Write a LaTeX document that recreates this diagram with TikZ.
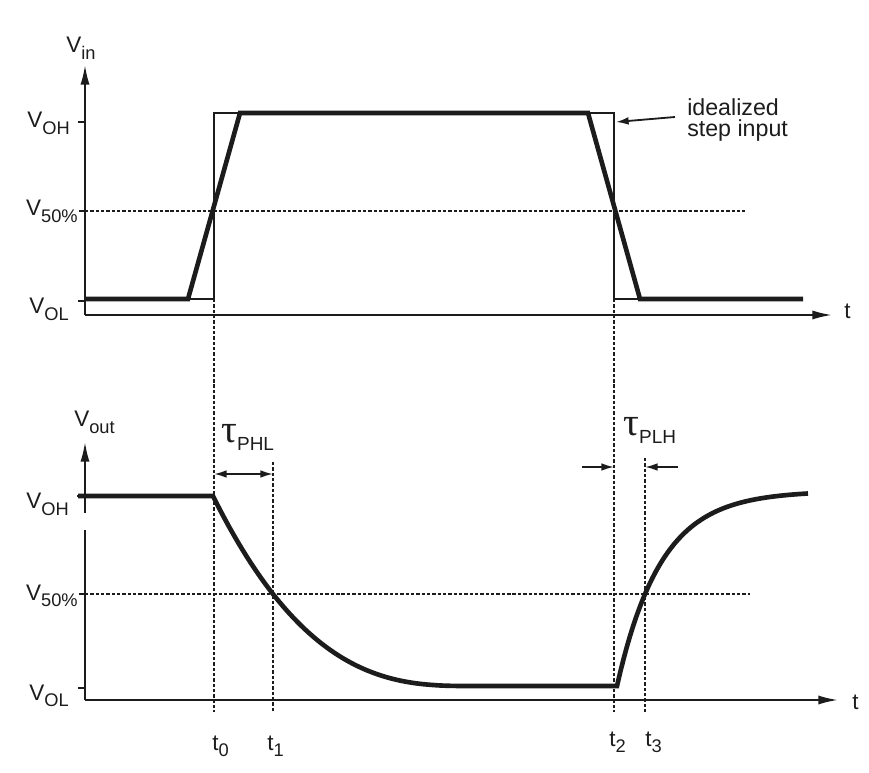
\documentclass[tikz,border=0pt]{standalone}
\usepackage{fontspec}
\setmainfont{Liberation Sans}
\newfontfamily\greekfont{Liberation Serif}
\usetikzlibrary{arrows.meta}

\definecolor{ink}{HTML}{1C1C1C}
\newcommand{\sig}[2]{#1\raisebox{-4.5pt}{\fontsize{13}{13}\selectfont #2}}
\newcommand{\dly}[1]{{\greekfont\fontsize{28}{28}\selectfont τ}\raisebox{-5pt}{\fontsize{13.5}{13.5}\selectfont #1}}

\begin{document}
\begin{tikzpicture}[x=0.025cm,y=-0.025cm,
  axis/.style={ink,line width=1.4pt,-{Latex[length=14pt,width=6.5pt]}},
  wave/.style={ink,line width=3.3pt},
  stepline/.style={ink,line width=1.3pt},
  guide/.style={ink,line width=0.9pt,dash pattern=on 2.4pt off 1.4pt},
  axtick/.style={ink,line width=1.4pt},
  lbl/.style={ink,font=\fontsize{16}{19}\selectfont,inner sep=0pt,anchor=base west},
  dim/.style={ink,line width=1.3pt},
  pointer/.style={ink,line width=1.3pt,-{Latex[length=9pt,width=5.5pt]}}]
  \useasboundingbox (0,0) rectangle (869,773);
  % input
  \coordinate (inO) at (85,315);
  \draw[axis] (inO) -- (85,65);
  \draw[axis] (inO) -- (832,315);
  \node[lbl] (vin) at (66,53) {\sig{V}{in}};
  \node[lbl] (tin) at (844,319) {t};
  \draw[axtick] (78,122) -- (85,122);
  \draw[axtick] (79,211) -- (85,211);
  \draw[axtick] (78,301) -- (85,301);
  \node[lbl,anchor=base east] (vohA) at (70,128) {\sig{V}{OH}};
  \node[lbl,anchor=base east] (vmidA) at (78,216) {\sig{V}{50\%}};
  \node[lbl,anchor=base east] (volA) at (69,314) {\sig{V}{OL}};
  \draw[guide] (85,211) -- (745,211);
  % idealized step and real input
  \draw[stepline] (85,299) -- (214,299) -- (214,113) -- (614,113) -- (614,299) -- (803,299);
  \draw[wave] (85,299) -- (188,299) -- (240,113) -- (588,113) -- (640,299) -- (803,299);
  \node[ink,anchor=west,align=left,inner sep=0pt,font=\fontsize{16.5}{15}\selectfont] (note) at (687,120) {idealized\\step input};
  \coordinate (stepEdge) at (616,122);
  \draw[pointer] ([shift={(-12,-3)}]note.west) -- (stepEdge);
  % output
  \coordinate (outO) at (85,700);
  \draw[axtick] (outO) -- (85,530);
  \draw[axis] (85,513) -- (85,442);
  \draw[axis] (outO) -- (838,700);
  \node[lbl] (vout) at (74,427) {\sig{V}{out}};
  \node[lbl] (tout) at (852,709) {t};
  \draw[axtick] (77,496) -- (85,496);
  \draw[axtick] (79,594) -- (85,594);
  \draw[axtick] (78,688) -- (85,688);
  \node[lbl,anchor=base east] (vohB) at (69,509) {\sig{V}{OH}};
  \node[lbl,anchor=base east] (vmidB) at (78,600) {\sig{V}{50\%}};
  \node[lbl,anchor=base east] (volB) at (69,700) {\sig{V}{OL}};
  \draw[guide] (85,594) -- (750,594);
  \draw[wave] (78,496) -- (213,496)
    -- plot[domain=213:468,samples=70] (\x,{686-190*exp(2.73*ln(1-(\x-213)/257))})
    -- (617,686)
    -- plot[domain=617:808,samples=60] (\x,{491+195*exp(-(\x-617)/43.9)});
  % time marks
  \coordinate (t0a) at (214,299); \coordinate (t0b) at (214,712);
  \coordinate (t1a) at (273,462); \coordinate (t1b) at (273,712);
  \coordinate (t2a) at (614,299); \coordinate (t2b) at (614,712);
  \coordinate (t3a) at (645,458); \coordinate (t3b) at (645,712);
  \draw[guide] (t0a) -- (t0b);
  \draw[guide] (t1a) -- (t1b);
  \draw[guide] (t2a) -- (t2b);
  \draw[guide] (t3a) -- (t3b);
  \node[lbl] (lt0) at (212,750) {\sig{t}{0}};
  \node[lbl] (lt1) at (267,750) {\sig{t}{1}};
  \node[lbl] (lt2) at (609,746) {\sig{t}{2}};
  \node[lbl] (lt3) at (645,746) {\sig{t}{3}};
  % delays
  \coordinate (phlL) at (214,474); \coordinate (phlR) at (273,474);
  \draw[dim,{Latex[length=9pt,width=5.5pt]}-{Latex[length=9pt,width=5.5pt]}] (phlL) -- (phlR);
  \node[lbl] (phl) at (221,443) {\dly{PHL}};
  \coordinate (plhA) at (582,467); \coordinate (plhB) at (614,467);
  \coordinate (plhC) at (678,467); \coordinate (plhD) at (645,467);
  \draw[dim,-{Latex[length=9pt,width=5.5pt]}] (plhA) -- (plhB);
  \draw[dim,-{Latex[length=9pt,width=5.5pt]}] (plhC) -- (plhD);
  \node[lbl] (plh) at (623,436) {\dly{PLH}};
\end{tikzpicture}
\end{document}
